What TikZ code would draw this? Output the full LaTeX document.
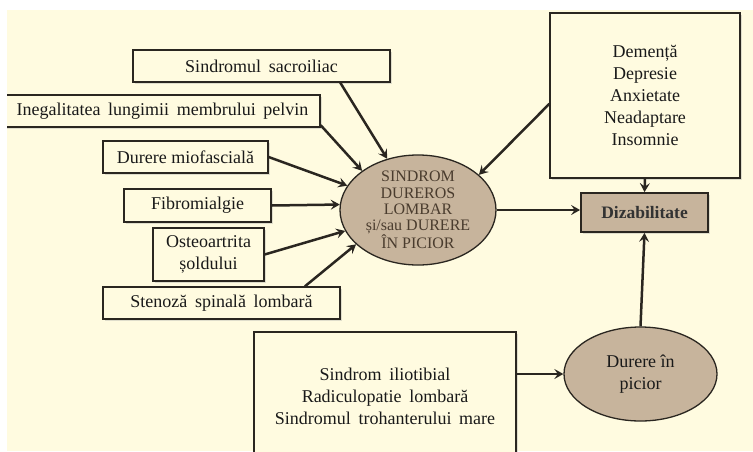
\documentclass[tikz,border=0pt]{standalone}
\usepackage{fontspec}
\setmainfont{Liberation Serif}
\usetikzlibrary{shapes.geometric,arrows.meta,calc,shadows}
\definecolor{bgcream}{HTML}{FFFBE0}
\definecolor{tanfill}{HTML}{C7B49C}
\definecolor{linec}{HTML}{2A2620}
\definecolor{elltext}{HTML}{4A3C2E}
\tikzset{
  box/.style={draw=linec, fill=bgcream, line width=1.3pt, inner sep=0pt, align=center,
    font=\fontsize{18}{22}\selectfont, text=black!90,
    drop shadow={shadow xshift=1.5pt, shadow yshift=-1.5pt, fill=black!35, opacity=0.35}},
  ell/.style={ellipse, draw=linec, fill=tanfill, line width=1.3pt, inner sep=0pt, align=center},
  arr/.style={draw=linec, line width=2.5pt, -{Stealth[length=9pt,width=10pt,inset=3.5pt]}}
}
\newcommand{\ws}{\hspace{0.42em}}
\begin{document}
\begin{tikzpicture}[x=1pt,y=-1pt]
\useasboundingbox (0,0) rectangle (753,451);
\fill[white] (0,0) rectangle (753,451);
\fill[bgcream] (7,10) rectangle (753,451);
\begin{scope}
\clip (7,10) rectangle (753,451);
% left boxes
\node[box, minimum width=257pt, minimum height=32pt] (sacro) at (261.5,66) {Sindromul\ws sacroiliac};
\node[box, minimum width=315pt, minimum height=32pt] (ineg) at (162.5,111) {Inegalitatea\ws lungimii\ws membrului\ws pelvin};
\node[box, minimum width=165pt, minimum height=32pt] (mio) at (185.5,157) {Durere miofascială};
\node[box, minimum width=147pt, minimum height=33pt] (fibro) at (197.5,205.5) {Fibromialgie};
\node[box, minimum width=111pt, minimum height=53pt] (osteo) at (208.5,254.5) {Osteoartrita\\șoldului};
\node[box, minimum width=237pt, minimum height=32pt] (sten) at (221.5,303) {Stenoză\ws spinală\ws lombară};
% central ellipse
\node[ell, minimum width=156pt, minimum height=104pt, text=elltext,
  font=\fontsize{16}{16.3}\selectfont] (sdl) at (418,210)
  {SINDROM\\DUREROS\\LOMBAR\\și/sau DURERE\\ÎN PICIOR};
% right
\node[box, minimum width=190pt, minimum height=165pt] (dem) at (645,95.5)
  {Demență\\Depresie\\Anxietate\\Neadaptare\\Insomnie};
\node[box, fill=tanfill, line width=1.8pt, minimum width=127pt, minimum height=39pt,
  font=\fontsize{17.5}{22}\selectfont\bfseries, text=black!80] (diz) at (644.5,212.5) {Dizabilitate};
% bottom
\node[box, minimum width=262pt, minimum height=128pt] (bot) at (385,396)
  {Sindrom\ws iliotibial\\Radiculopatie\ws lombară\\Sindromul\ws trohanterului\ws mare};
\node[ell, minimum width=153pt, minimum height=94pt, text=black!90,
  font=\fontsize{18}{22.5}\selectfont] (dip) at (640.5,374) {Durere în\\picior};
% arrows
\draw[arr] ($(sacro.south west)!0.805!(sacro.south east)$) -- (sdl.121);
\draw[arr] ($(ineg.east)!0.85!(ineg.south east)$) -- (sdl.145);
\draw[arr] (mio.east) -- (sdl.161);
\draw[arr] (fibro.east) -- (sdl.176);
\draw[arr] (osteo.east) -- (sdl.196);
\draw[arr] ($(sten.north west)!0.85!(sten.north east)$) -- (sdl.209);
\draw[arr] ($(dem.west)!0.1!(dem.south west)$) -- (sdl.30);
\draw[arr] (sdl.east) -- (sdl.east -| diz.west);
\draw[arr] (dem.south) -- (diz.north);
\draw[arr] (bot.east |- dip.west) -- (dip.west);
\draw[arr] (dip.north) -- (diz.south);
\end{scope}
\end{tikzpicture}
\end{document}
